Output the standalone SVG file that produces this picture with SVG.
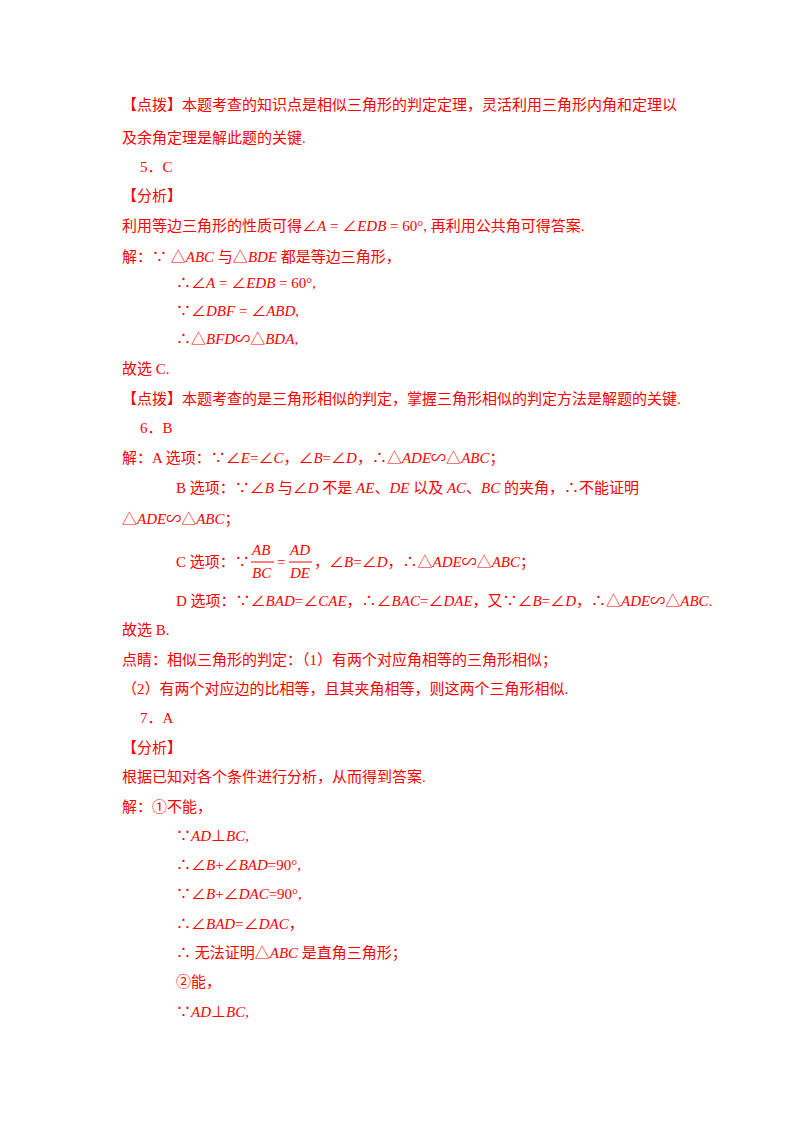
<svg xmlns="http://www.w3.org/2000/svg" width="800" height="1132" viewBox="0 0 800 1132">
<style>
text{font-family:"Liberation Serif","Noto Sans CJK SC",serif;font-size:15px;fill:#ff0000}
.i{font-style:italic}
</style>
<rect width="800" height="1132" fill="#fff"/>
<g id="text">
<text x="122" y="110">【点拨】本题考查的知识点是相似三角形的判定定理，灵活利用三角形内角和定理以</text>
<text x="122" y="143">及余角定理是解此题的关键.</text>
<text x="140" y="172">5．C</text>
<text x="122" y="201">【分析】</text>
<text x="122" y="231">利用等边三角形的性质可得∠<tspan class="i">A</tspan> = ∠<tspan class="i">EDB</tspan> = 60°, 再利用公共角可得答案.</text>
<text x="122" y="262">解：∵ △<tspan class="i">ABC</tspan> 与△<tspan class="i">BDE</tspan> 都是等边三角形，</text>
<text x="176" y="288">∴∠<tspan class="i">A</tspan> = ∠<tspan class="i">EDB</tspan> = 60°,</text>
<text x="176" y="316">∵∠<tspan class="i">DBF</tspan> = ∠<tspan class="i">ABD</tspan>,</text>
<text x="176" y="344">∴△<tspan class="i">BFD</tspan>∽△<tspan class="i">BDA</tspan>,</text>
<text x="122" y="374">故选 C.</text>
<text x="122" y="404">【点拨】本题考查的是三角形相似的判定，掌握三角形相似的判定方法是解题的关键.</text>
<text x="140" y="433">6．B</text>
<text x="122" y="463">解：A 选项：∵∠<tspan class="i">E</tspan>=∠<tspan class="i">C</tspan>，∠<tspan class="i">B</tspan>=∠<tspan class="i">D</tspan>，∴△<tspan class="i">ADE</tspan>∽△<tspan class="i">ABC</tspan>；</text>
<text x="176" y="493">B 选项：∵∠<tspan class="i">B</tspan> 与∠<tspan class="i">D</tspan> 不是 <tspan class="i">AE</tspan>、<tspan class="i">DE</tspan> 以及 <tspan class="i">AC</tspan>、<tspan class="i">BC</tspan> 的夹角，∴不能证明</text>
<text x="122" y="524">△<tspan class="i">ADE</tspan>∽△<tspan class="i">ABC</tspan>；</text>
<text x="176" y="567">C 选项：∵</text>
<text x="252" y="555" font-size="13" class="i">AB</text>
<line x1="251" y1="562" x2="274" y2="562" stroke="#ff0000" stroke-width="1"/>
<text x="252" y="578" font-size="13" class="i">BC</text>
<text x="277" y="567">=</text>
<text x="290" y="555" font-size="13" class="i">AD</text>
<line x1="289" y1="562" x2="312" y2="562" stroke="#ff0000" stroke-width="1"/>
<text x="290" y="578" font-size="13" class="i">DE</text>
<text x="314" y="567">，∠<tspan class="i">B</tspan>=∠<tspan class="i">D</tspan>，∴△<tspan class="i">ADE</tspan>∽△<tspan class="i">ABC</tspan>；</text>
<text x="176" y="606">D 选项：∵∠<tspan class="i">BAD</tspan>=∠<tspan class="i">CAE</tspan>，∴∠<tspan class="i">BAC</tspan>=∠<tspan class="i">DAE</tspan>，又∵∠<tspan class="i">B</tspan>=∠<tspan class="i">D</tspan>，∴△<tspan class="i">ADE</tspan>∽△<tspan class="i">ABC</tspan>.</text>
<text x="122" y="635">故选 B.</text>
<text x="122" y="665">点睛：相似三角形的判定：（1）有两个对应角相等的三角形相似；</text>
<text x="122" y="694">（2）有两个对应边的比相等，且其夹角相等，则这两个三角形相似.</text>
<text x="140" y="723">7．A</text>
<text x="122" y="753">【分析】</text>
<text x="122" y="782">根据已知对各个条件进行分析，从而得到答案.</text>
<text x="122" y="812">解：①不能，</text>
<text x="176" y="841">∵<tspan class="i">AD</tspan>⊥<tspan class="i">BC</tspan>,</text>
<text x="176" y="870">∴∠<tspan class="i">B</tspan>+∠<tspan class="i">BAD</tspan>=90°,</text>
<text x="176" y="899">∵∠<tspan class="i">B</tspan>+∠<tspan class="i">DAC</tspan>=90°,</text>
<text x="176" y="929">∴∠<tspan class="i">BAD</tspan>=∠<tspan class="i">DAC</tspan>，</text>
<text x="176" y="958">∴ 无法证明△<tspan class="i">ABC</tspan> 是直角三角形；</text>
<text x="176" y="987">②能，</text>
<text x="176" y="1017">∵<tspan class="i">AD</tspan>⊥<tspan class="i">BC</tspan>,</text>
</g>
</svg>
